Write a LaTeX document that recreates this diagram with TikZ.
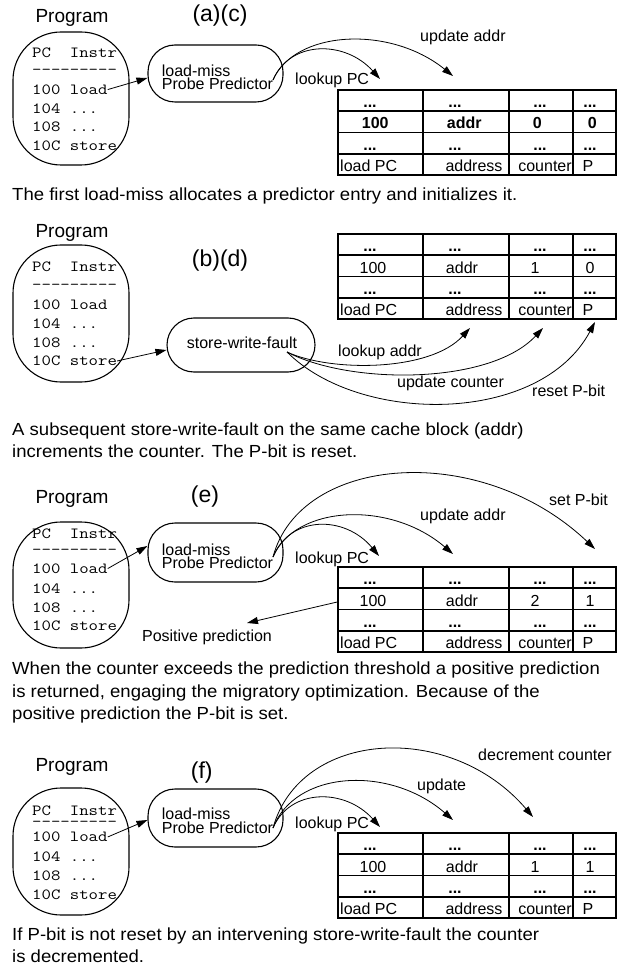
\documentclass[tikz,border=0pt]{standalone}
\usepackage{fontspec}
\setmainfont{Liberation Sans}
\usepackage{graphicx}
\usetikzlibrary{arrows.meta}
\newcommand{\myfs}[1]{\fontsize{#1}{#1}\selectfont}
\newcommand{\mono}[1]{\scalebox{1.18}[1]{\ttfamily #1}}
\newcommand{\capt}[1]{\scalebox{1.06}[1]{#1}}
\tikzset{
 lbl/.style={anchor=base west, inner sep=0pt, font=\myfs{16}},
 captn/.style={anchor=base west, inner sep=0pt, font=\myfs{17.5}},
 ttl/.style={anchor=base, inner sep=0pt, font=\myfs{19}},
 panl/.style={anchor=base, inner sep=0pt, font=\myfs{23}},
 code/.style={anchor=base west, inner sep=0pt, font=\myfs{15.5}},
 progbox/.style={draw, line width=1.1pt, rounded corners=48pt, minimum width=116pt, inner sep=0pt},
 opbox/.style={draw, line width=1.1pt, rounded corners=27pt, inner sep=0pt, minimum width=135pt},
 arr/.style={-{Triangle[length=11pt,width=7pt]}, line width=0.8pt},
 tbl/.style={line width=1.6pt},
 cell/.style={anchor=base, inner sep=0pt, font=\myfs{16}},
}
\newcommand{\predtab}[5]{%
 \node[draw, tbl, minimum width=278pt, minimum height=85pt, inner sep=0pt] (#1) at (477,{#2+42.5}) {};
 \draw[tbl] (423,#2) -- (423,{#2+85}) (509,#2) -- (509,{#2+85}) (573,#2) -- (573,{#2+85})
   (338,{#2+21.25}) -- (616,{#2+21.25}) (338,{#2+42.5}) -- (616,{#2+42.5}) (338,{#2+63.75}) -- (616,{#2+63.75});
 \node[cell] (#1-11) at (370,{#2+17.75}) {\textbf{...}};
 \node[cell] (#1-12) at (455,{#2+17.75}) {\textbf{...}};
 \node[cell] (#1-13) at (540,{#2+17.75}) {\textbf{...}};
 \node[cell] (#1-14) at (590,{#2+17.75}) {\textbf{...}};
 \node[cell] (#1-21) at (373,{#2+39}) {#5 100};
 \node[cell] (#1-22) at (462,{#2+39}) {#5 addr};
 \node[cell] (#1-23) at (535,{#2+39}) {#5 #3};
 \node[cell] (#1-24) at (590,{#2+39}) {#5 #4};
 \node[cell] (#1-31) at (370,{#2+60.25}) {\textbf{...}};
 \node[cell] (#1-32) at (455,{#2+60.25}) {\textbf{...}};
 \node[cell] (#1-33) at (540,{#2+60.25}) {\textbf{...}};
 \node[cell] (#1-34) at (590,{#2+60.25}) {\textbf{...}};
 \node[lbl] (#1-41) at (340,{#2+81.5}) {load PC};
 \node[cell] (#1-42) at (474,{#2+81.5}) {address};
 \node[cell] (#1-43) at (545,{#2+81.5}) {counter};
 \node[cell] (#1-44) at (588,{#2+81.5}) {P};
}
\begin{document}
\begin{tikzpicture}[x=1pt,y=-1pt]
\useasboundingbox (0,0) rectangle (621,965);
% ---------------- panel 1 ----------------
\node[ttl] (prog1) at (72,22.7) {Program};
\node[panl] (lab1) at (220,22) {(a)(c)};
\node[progbox, minimum height=133pt] (pb1) at (71,98.5) {};
\node[code] (c1a) at (32,57.3) {\mono{PC\ \ Instr}};
\node[code] (c1b) at (32,74.5) {\mono{-{}-{}-{}-{}-{}-{}-{}-{}-}};
\node[code] (c1c) at (32,94.3) {\mono{100 load}};
\node[code] (c1d) at (32,113.3) {\mono{104 ...}};
\node[code] (c1e) at (32,131.7) {\mono{108 ...}};
\node[code] (c1f) at (32,150.7) {\mono{10C store}};
\node[opbox, minimum height=57pt] (lm1) at (215.5,73.5) {};
\node[lbl] (lm1a) at (161.7,76.7) {load-miss};
\node[lbl] (lm1b) at (161.7,90) {Probe Predictor};
\draw[arr] (c1c.east) -- ([yshift=-4.5pt]lm1.west);
\coordinate (s1) at (273,80);
\coordinate (t1a) at (380,79);
\coordinate (t1b) at (453,76);
\draw[arr] (s1) .. controls (290,40) and (345,40) .. (t1a);
\draw[arr] (s1) .. controls (295,30) and (390,25) .. (t1b);
\node[lbl] (lk1) at (295,84.3) {lookup PC};
\node[lbl] (ua1) at (420,41.7) {update addr};
\predtab{tab1}{90}{0}{0}{\bfseries}
\node[captn] (cap1) at (12,200.5) {\capt{The first load-miss allocates a predictor entry and initializes it.}};
% ---------------- panel 2 ----------------
\node[ttl] (prog2) at (72,238) {Program};
\node[panl] (lab2) at (220,266.7) {(b)(d)};
\node[progbox, minimum height=137pt] (pb2) at (71,313.5) {};
\node[code] (c2a) at (32,271.7) {\mono{PC\ \ Instr}};
\node[code] (c2b) at (32,289.5) {\mono{-{}-{}-{}-{}-{}-{}-{}-{}-}};
\node[code] (c2c) at (32,309) {\mono{100 load}};
\node[code] (c2d) at (32,328.3) {\mono{104 ...}};
\node[code] (c2e) at (32,347) {\mono{108 ...}};
\node[code] (c2f) at (32,365.7) {\mono{10C store}};
\node[opbox, minimum width=148pt, minimum height=54pt] (sw) at (241,345) {};
\node[cell] (swt) at (242,348) {store-write-fault};
\draw[arr] (c2f.east) -- ([yshift=-5pt]sw.west);
\coordinate (s2) at (287,352);
\coordinate (t2a) at (470,328);
\coordinate (t2b) at (543,328);
\coordinate (t2c) at (595,322);
\draw[arr] (s2) .. controls (330,372) and (430,372) .. (t2a);
\draw[arr] (s2) .. controls (350,385) and (490,385) .. (t2b);
\draw[arr] (s2) .. controls (360,425) and (540,425) .. (t2c);
\node[lbl] (la2) at (338,356) {lookup addr};
\node[lbl] (uc2) at (397,387.7) {update counter};
\node[lbl] (rp2) at (532,396.7) {reset P-bit};
\predtab{tab2}{234}{1}{0}{}
\node[captn] (cap2a) at (12,435.5) {\capt{A subsequent store-write-fault on the same cache block (addr)}};
\node[captn] (cap2b) at (12,457.5) {\capt{increments the counter. The P-bit is reset.}};
% ---------------- panel 3 ----------------
\node[ttl] (prog3) at (72,503) {Program};
\node[panl] (lab3) at (205,502.7) {(e)};
\node[progbox, minimum height=126pt] (pb3) at (71,585) {};
\node[code] (c3a) at (32,538.3) {\mono{PC\ \ Instr}};
\node[code] (c3b) at (32,554) {\mono{-{}-{}-{}-{}-{}-{}-{}-{}-}};
\node[code] (c3c) at (32,573.3) {\mono{100 load}};
\node[code] (c3d) at (32,593.3) {\mono{104 ...}};
\node[code] (c3e) at (32,612.7) {\mono{108 ...}};
\node[code] (c3f) at (32,630) {\mono{10C store}};
\node[opbox, minimum height=59pt] (lm3) at (215.5,552.5) {};
\node[lbl] (lm3a) at (161.7,555) {load-miss};
\node[lbl] (lm3b) at (161.7,568.3) {Probe Predictor};
\draw[arr] (c3c.east) -- ([yshift=6.5pt]lm3.west);
\coordinate (s3) at (273,557);
\coordinate (t3a) at (379,556);
\coordinate (t3b) at (453,554);
\coordinate (t3c) at (595,549);
\draw[arr] (s3) .. controls (290,515) and (345,515) .. (t3a);
\draw[arr] (s3) .. controls (295,505) and (390,500) .. (t3b);
\draw[arr] (s3) .. controls (300,455) and (480,440) .. (t3c);
\node[lbl] (sp3) at (549,505) {set P-bit};
\node[lbl] (ua3) at (420,520) {update addr};
\node[lbl] (lk3) at (295,563.3) {lookup PC};
\predtab{tab3}{567}{2}{1}{}
\coordinate (pptip) at (247,623);
\draw[arr] ([yshift=7.5pt]tab3.west) -- (pptip);
\node[cell] (pp3) at (207,641.7) {Positive prediction};
\node[captn] (cap3a) at (12,674.5) {\capt{When the counter exceeds the prediction threshold a positive prediction}};
\node[captn] (cap3b) at (12,697) {\capt{is returned, engaging the migratory optimization. Because of the}};
\node[captn] (cap3c) at (12,719.5) {\capt{positive prediction the P-bit is set.}};
% ---------------- panel 4 ----------------
\node[ttl] (prog4) at (72,771.7) {Program};
\node[panl] (lab4) at (201.7,778) {(f)};
\node[progbox, minimum height=127pt] (pb4) at (71,851.5) {};
\node[code] (c4a) at (32,815) {\mono{PC\ \ Instr}};
\node[code] (c4b) at (32,826) {\mono{-{}-{}-{}-{}-{}-{}-{}-{}-}};
\node[code] (c4c) at (32,841.7) {\mono{100 load}};
\node[code] (c4d) at (32,861.7) {\mono{104 ...}};
\node[code] (c4e) at (32,880) {\mono{108 ...}};
\node[code] (c4f) at (32,899) {\mono{10C store}};
\node[opbox, minimum height=58pt] (lm4) at (215.5,818) {};
\node[lbl] (lm4a) at (161.7,819) {load-miss};
\node[lbl] (lm4b) at (161.7,833.3) {Probe Predictor};
\draw[arr] (c4c.east) -- ([yshift=-2pt]lm4.west);
\coordinate (s4) at (273,828);
\coordinate (t4a) at (380,827);
\coordinate (t4b) at (453,820);
\coordinate (t4c) at (533,817);
\draw[arr] (s4) .. controls (290,788) and (345,788) .. (t4a);
\draw[arr] (s4) .. controls (295,770) and (390,765) .. (t4b);
\draw[arr] (s4) .. controls (300,730) and (450,720) .. (t4c);
\node[lbl] (dc4) at (478,760) {decrement counter};
\node[lbl] (up4) at (417,790) {update};
\node[lbl] (lk4) at (295,828.3) {lookup PC};
\predtab{tab4}{833}{1}{1}{}
\node[captn] (cap4a) at (12,940) {\capt{If P-bit is not reset by an intervening store-write-fault the counter}};
\node[captn] (cap4b) at (12,962) {\capt{is decremented.}};
\end{tikzpicture}
\end{document}
